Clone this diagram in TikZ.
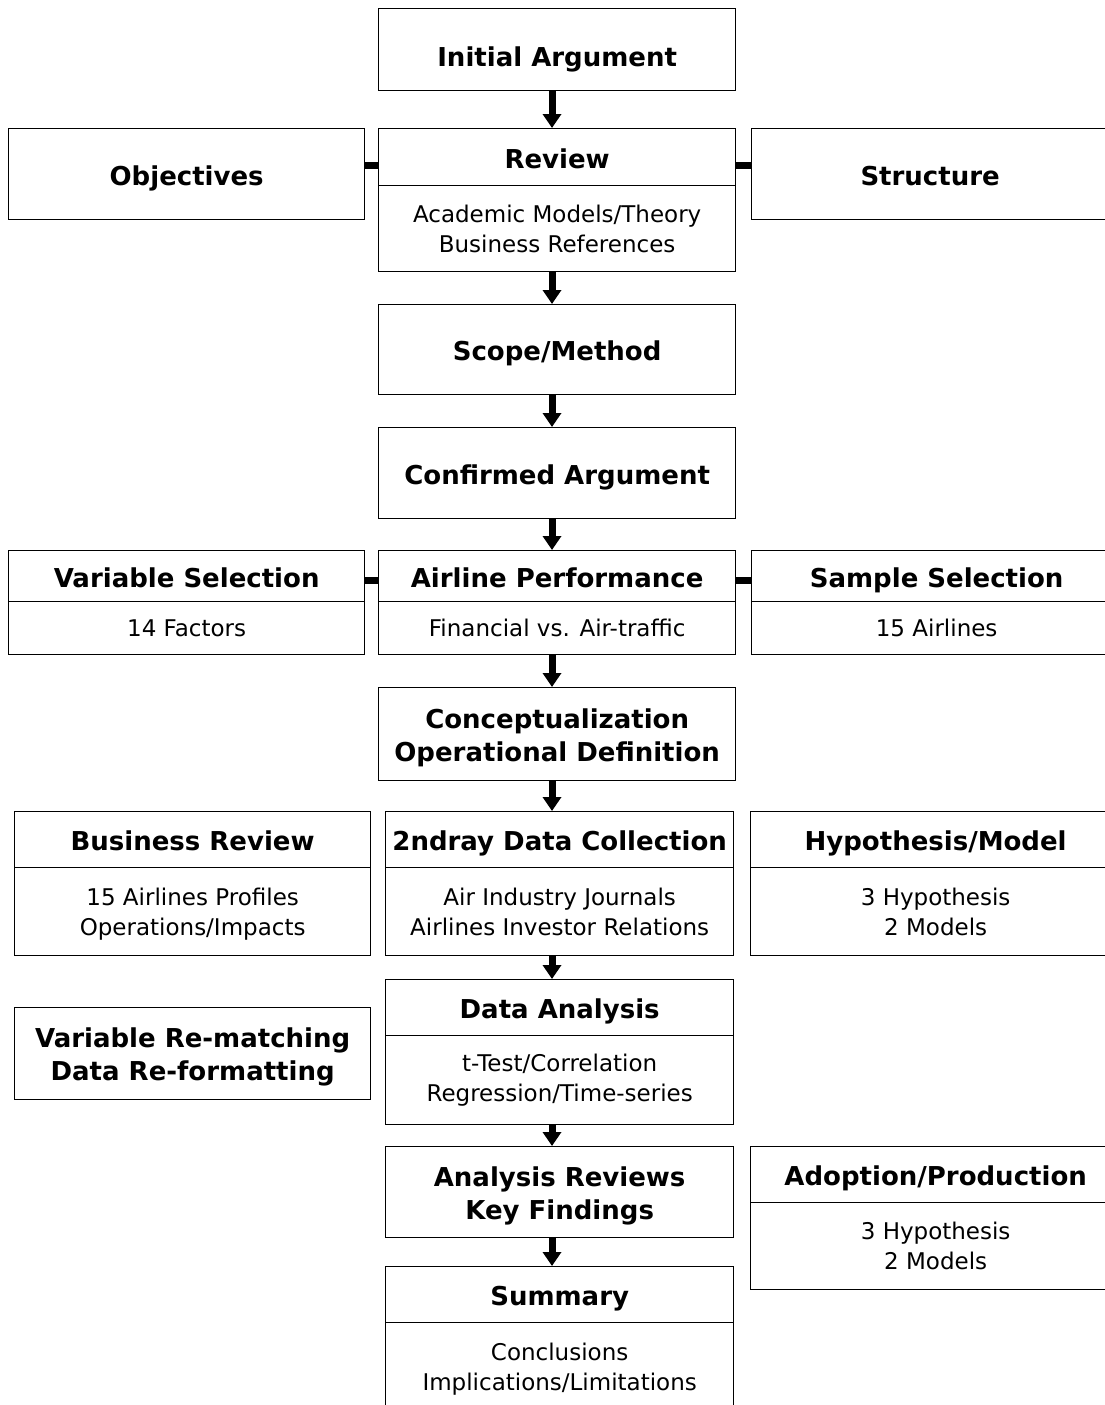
\documentclass[tikz,border=0pt]{standalone}
\usepackage{fontspec}
\setmainfont{DejaVu Sans}
\usetikzlibrary{arrows.meta}
\newcommand\topstrut{\rule{0pt}{27pt}}
\begin{document}
\begin{tikzpicture}[x=1pt,y=-1pt,
  bx/.style={draw, line width=1.3pt, inner sep=0pt, anchor=north west},
  hd/.style={bx, align=center, font=\fontsize{26}{33}\selectfont\bfseries},
  hd1/.style={bx, font=\fontsize{26}{33}\selectfont\bfseries, text height=23pt, text depth=1pt},
  bd/.style={bx, align=center, font=\fontsize{23}{30}\selectfont},
  arr/.style={line width=7pt, -{Triangle[width=18pt,length=14pt]}},
  lnk/.style={line width=7pt}]
\useasboundingbox (0,0) rectangle (1105,1405);
\clip (0,0) rectangle (1105,1405);
\coordinate (ax) at (552,0);
% row 1
\node[hd1, minimum width=357, minimum height=82, text height=35pt] (ia) at (378,8) {Initial Argument};
% row 2
\node[hd1, minimum width=356, minimum height=91] (ob) at (8,128) {Objectives};
\node[hd1, minimum width=357, minimum height=57] (rvh) at (378,128) {Review};
\node[bd, minimum width=357, minimum height=86] (rvb) at (378,185) {Academic Models/Theory\\Business References};
\node[hd1, minimum width=357, minimum height=91] (st) at (751,128) {Structure};
% rows 3-4
\node[hd1, minimum width=357, minimum height=90] (sm) at (378,304) {Scope/Method};
\node[hd1, minimum width=357, minimum height=91] (ca) at (378,427) {Confirmed Argument};
% row 5
\node[hd1, minimum width=356, minimum height=51] (vsh) at (8,550) {Variable Selection};
\node[bd, minimum width=356, minimum height=53] (vsb) at (8,601) {14 Factors};
\node[hd1, minimum width=357, minimum height=51] (aph) at (378,550) {Airline Performance};
\node[bd, minimum width=357, minimum height=53] (apb) at (378,601) {Financial vs. Air-traffic};
\node[hd1, minimum width=370, minimum height=51] (ssh) at (751,550) {Sample Selection};
\node[bd, minimum width=370, minimum height=53] (ssb) at (751,601) {15 Airlines};
% row 6
\node[hd, minimum width=357, minimum height=93] (co) at (378,687) {\topstrut Conceptualization\\Operational Definition};
% row 7
\node[hd1, minimum width=356, minimum height=56] (brh) at (14,811) {Business Review};
\node[bd, minimum width=356, minimum height=88] (brb) at (14,867) {\rule{0pt}{23pt}15 Airlines Profiles\\Operations/Impacts};
\node[hd1, minimum width=348, minimum height=56] (dch) at (385,811) {2ndray Data Collection};
\node[bd, minimum width=348, minimum height=88] (dcb) at (385,867) {Air Industry Journals\\Airlines Investor Relations};
\node[hd1, minimum width=370, minimum height=56] (hmh) at (750,811) {Hypothesis/Model};
\node[bd, minimum width=370, minimum height=88] (hmb) at (750,867) {3 Hypothesis\\2 Models};
% row 8
\node[hd, minimum width=356, minimum height=92] (vr) at (14,1007) {\topstrut Variable Re-matching\\Data Re-formatting};
\node[hd1, minimum width=348, minimum height=56] (dah) at (385,979) {Data Analysis};
\node[bd, minimum width=348, minimum height=89] (dab) at (385,1035) {t-Test/Correlation\\Regression/Time-series};
% row 9
\node[hd, minimum width=348, minimum height=91] (ar) at (385,1146) {\topstrut Analysis Reviews\\Key Findings};
\node[hd1, minimum width=370, minimum height=56] (adh) at (750,1146) {Adoption/Production};
\node[bd, minimum width=370, minimum height=87] (adb) at (750,1202) {3 Hypothesis\\2 Models};
% row 10
\node[hd1, minimum width=348, minimum height=56] (suh) at (385,1266) {Summary};
\node[bd, minimum width=348, minimum height=92] (sub) at (385,1322) {Conclusions\\Implications/Limitations};
% side links
\coordinate (ly1) at (0,165);
\coordinate (ly2) at (0,580);
\draw[lnk] (ob.east |- ly1) -- (rvh.west |- ly1);
\draw[lnk] (rvh.east |- ly1) -- (st.west |- ly1);
\draw[lnk] (vsh.east |- ly2) -- (aph.west |- ly2);
\draw[lnk] (aph.east |- ly2) -- (ssh.west |- ly2);
% arrows
\draw[arr] (ia.south -| ax) -- (rvh.north -| ax);
\draw[arr] (rvb.south -| ax) -- (sm.north -| ax);
\draw[arr] (sm.south -| ax) -- (ca.north -| ax);
\draw[arr] (ca.south -| ax) -- (aph.north -| ax);
\draw[arr] (apb.south -| ax) -- (co.north -| ax);
\draw[arr] (co.south -| ax) -- (dch.north -| ax);
\draw[arr] (dcb.south -| ax) -- (dah.north -| ax);
\draw[arr] (dab.south -| ax) -- (ar.north -| ax);
\draw[arr] (ar.south -| ax) -- (suh.north -| ax);
\end{tikzpicture}
\end{document}
